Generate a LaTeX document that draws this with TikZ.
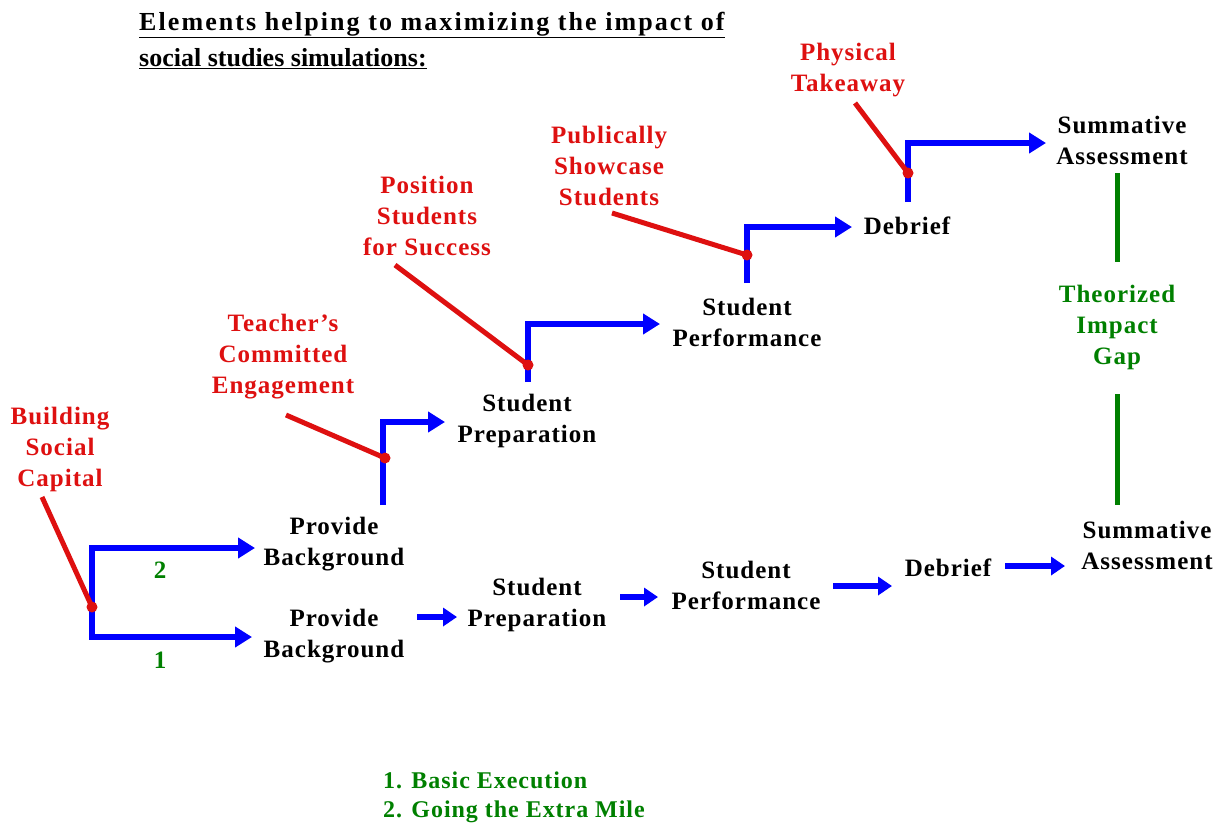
\documentclass[tikz,border=0pt]{standalone}
\usepackage{fontspec}
\setmainfont[LetterSpace=4]{Liberation Serif}
\newfontfamily\titlefontA[LetterSpace=8]{Liberation Serif}
\newfontfamily\titlefontB{Liberation Serif}
\usetikzlibrary{arrows.meta}
\definecolor{dblue}{RGB}{0,0,255}
\definecolor{dred}{RGB}{222,16,16}
\definecolor{dgreen}{RGB}{0,128,0}
\tikzset{
  txt/.style={font=\fontsize{25}{31}\selectfont\bfseries, align=center, inner sep=0pt},
  blk/.style={txt, text=black},
  rlab/.style={txt, text=dred},
  glab/.style={txt, text=dgreen},
  ttl/.style={anchor=base west, inner sep=0pt},
  barrow/.style={draw=dblue, line width=6pt, line join=miter, -{Triangle[length=17pt,width=20pt]}},
  sarrow/.style={draw=dblue, line width=6pt, -{Triangle[length=14pt,width=18pt]}},
  rline/.style={draw=dred, line width=5pt},
  rdot/.style={fill=dred},
  gline/.style={draw=dgreen, line width=5pt}
}
\begin{document}
\begin{tikzpicture}[x=1pt,y=-1pt]
\useasboundingbox (0,0) rectangle (1220,825);
\fill[white] (0,0) rectangle (1220,825);
% title
\node[ttl, font=\titlefontA\fontsize{26}{36}\selectfont\bfseries] (title1) at (139,30)
  {\underline{Elements helping to maximizing the impact of}};
\node[ttl, font=\titlefontB\fontsize{26}{36}\selectfont\bfseries] (title2) at (139,66)
  {\underline{social studies simulations:}};
% red labels
\node[rlab] (bsc) at (60,449) {Building\\Social\\Capital};
\node[rlab] (tce) at (283,357) {Teacher’s\\Committed\\Engagement};
\node[rlab] (pss) at (427,216) {Position\\Students\\for Success};
\node[rlab] (psh) at (609,166) {Publically\\Showcase\\Students};
\node[rlab] (pht) at (848,70) {Physical\\Takeaway};
% black nodes
\node[blk] (pbU) at (334,544) {Provide\\Background};
\node[blk] (pbL) at (334,636) {Provide\\Background};
\node[blk] (spL) at (537,605) {Student\\Preparation};
\node[blk] (spfL) at (746,585) {Student\\Performance};
\node[blk] (dbL) at (948,568) {Debrief};
\node[blk] (sumL) at (1147,545) {Summative\\Assessment};
\node[blk] (spU) at (527,421) {Student\\Preparation};
\node[blk] (spfU) at (747,322) {Student\\Performance};
\node[blk] (dbU) at (907,226) {Debrief};
\node[blk] (sumU) at (1122,140) {Summative\\Assessment};
\node[glab] (gap) at (1117,327) {Theorized\\Impact\\Gap};
\node[glab] (n2) at (160,570) {2};
\node[glab] (n1) at (160,660) {1};
\node[glab, anchor=west, align=left, font=\fontsize{24}{29}\selectfont\bfseries] (legend) at (383,797)
  {1. Basic Execution\\2. Going the Extra Mile};
% coordinates
\coordinate (br1) at (92,548);
\coordinate (br2) at (92,637);
\coordinate (tU) at (255,548);
\coordinate (tL) at (252,637);
\coordinate (e1) at (383,505); \coordinate (c1) at (383,422); \coordinate (t1) at (445,422);
\coordinate (e2) at (528,382); \coordinate (c2) at (528,324); \coordinate (t2) at (660,324);
\coordinate (e3) at (747,283); \coordinate (c3) at (747,227); \coordinate (t3) at (852,227);
\coordinate (e4) at (908,202); \coordinate (c4) at (908,143); \coordinate (t4) at (1046,143);
% blue elbows
\draw[barrow, {Triangle[length=17pt,width=20pt]}-{Triangle[length=17pt,width=20pt]}] (tU) -- (br1) -- (br2) -- (tL);
\draw[barrow] (e1) -- (c1) -- (t1);
\draw[barrow] (e2) -- (c2) -- (t2);
\draw[barrow] (e3) -- (c3) -- (t3);
\draw[barrow] (e4) -- (c4) -- (t4);
% bottom row
\coordinate (s1) at (417,617); \coordinate (f1) at (457,617);
\coordinate (s2) at (620,597); \coordinate (f2) at (658,597);
\coordinate (s3) at (833,586); \coordinate (f3) at (892,586);
\coordinate (s4) at (1005,566); \coordinate (f4) at (1065,566);
\draw[sarrow] (s1) -- (f1);
\draw[sarrow] (s2) -- (f2);
\draw[sarrow] (s3) -- (f3);
\draw[sarrow] (s4) -- (f4);
% red pointers
\coordinate (r1) at (42,497);  \coordinate (p1) at (92,607);
\coordinate (r2) at (286,415); \coordinate (p2) at (385,458);
\coordinate (r3) at (395,265); \coordinate (p3) at (528,365);
\coordinate (r4) at (612,213); \coordinate (p4) at (747,255);
\coordinate (r5) at (855,103); \coordinate (p5) at (908,173);
\foreach \a/\b in {r1/p1,r2/p2,r3/p3,r4/p4,r5/p5}{
  \draw[rline] (\a) -- (\b);
  \fill[rdot] (\b) circle (5.5pt);
}
% green gap line
\coordinate (g1) at (1117,173); \coordinate (g2) at (1117,262);
\coordinate (g3) at (1117,394); \coordinate (g4) at (1117,505);
\draw[gline] (g1) -- (g2);
\draw[gline] (g3) -- (g4);
\end{tikzpicture}
\end{document}
